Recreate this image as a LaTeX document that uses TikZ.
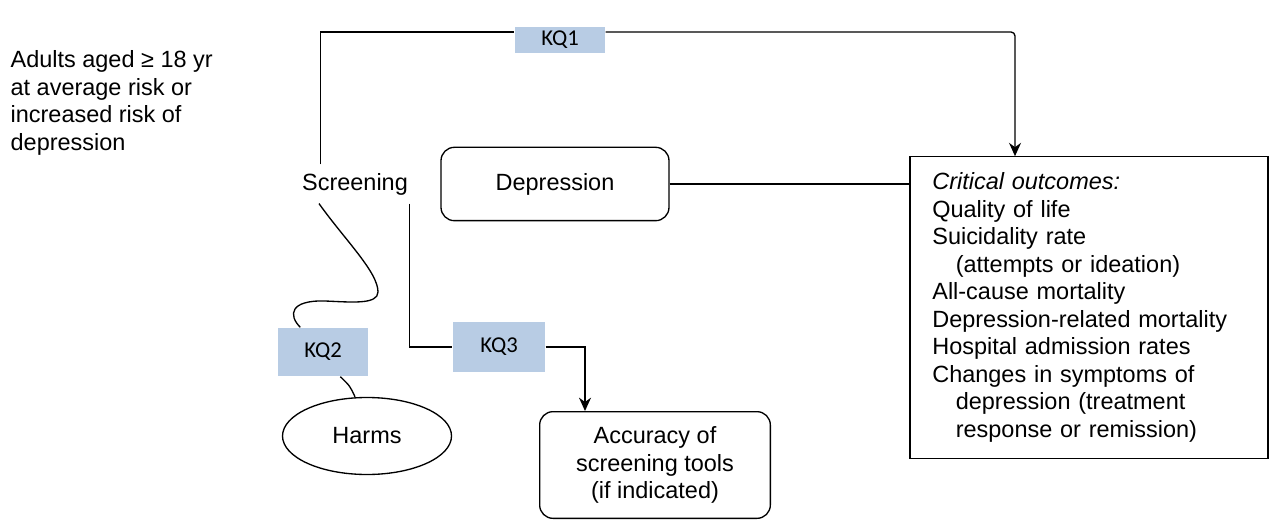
\documentclass[tikz,border=0pt]{standalone}
\usepackage{fontspec}
\setmainfont{Liberation Sans}
\newfontfamily\kqfont{Carlito}
\usepackage{xcolor}
\usepackage{tikz}
\usetikzlibrary{shapes.geometric,arrows.meta,positioning}
\definecolor{kqblue}{RGB}{184,204,228}

\begin{document}
\begin{tikzpicture}[
  x=0.75pt, y=-0.75pt,
  >={Stealth[length=10pt,width=9pt]},
  line width=1pt,
  node distance=150pt,
  every node/.style={font=\fontsize{17.6}{20.6}\selectfont},
  kq/.style={fill=kqblue, minimum width=67.5pt, font=\kqfont\fontsize{17}{20}\selectfont},
  roundbox/.style={draw, rectangle, rounded corners=10pt, align=center}
]
\useasboundingbox (0,0) rectangle (1269,520);

\node (adults) [anchor=north west, inner sep=0pt, align=left] at (10,50)
      {Adults aged ≥ 18 yr\\at average risk or\\increased risk of\\depression};
\node (screening)  [inner sep=6pt] at (355,184) {Screening};
\node (depression) [roundbox, right of=screening, minimum width=171pt, minimum height=55pt] {Depression};
\node (outcomes)   [draw, rectangle, align=left, text width=235pt, minimum width=268.5pt, minimum height=226pt] at (1089,307.5)
      {\textit{Critical outcomes:}\\Quality of life\\Suicidality rate\\\hspace*{1em}(attempts or ideation)\\All-cause mortality\\Depression-related mortality\\Hospital admission rates\\Changes in symptoms of\\\hspace*{1em}depression (treatment\\\hspace*{1em}response or remission)};

\node (kq1) [kq, minimum height=20pt] at (560,40)  {KQ1};
\node (kq2) [kq, minimum height=36pt] at (323,352) {KQ2};
\node (kq3) [kq, minimum width=69pt, minimum height=37.5pt] at (499,347) {KQ3};

\node (harms)    [draw, ellipse, inner sep=0pt, minimum width=126.75pt, minimum height=57.75pt] at (367,436) {Harms};
\node (accuracy) [roundbox, minimum width=173pt, minimum height=80pt] at (655,465)
      {Accuracy of\\screening tools\\(if indicated)};

% KQ1
\draw ([xshift=-26pt]screening.north) |- ([yshift=6pt]kq1.west);
\draw[->, rounded corners=3pt] ([yshift=6pt]kq1.east) -| ([xshift=-55.5pt]outcomes.north);
\draw (depression.east) -- (depression.east -| outcomes.west);

% KQ3
\draw ([xshift=41pt]screening.south) |- (kq3.west);
\draw[->] (kq3.east) -| ([xshift=-52.5pt]accuracy.north);

% KQ2
\coordinate (bendA) at (378,292);
\coordinate (bendB) at (325,301);
\draw ([xshift=-27pt]screening.south) .. controls (345,240) and (378,272) .. (bendA)
      .. controls (378,305) and (350,302) .. (bendB)
      .. controls (290,300) and (288,315) .. ([xshift=-17pt]kq2.north);
\draw ([xshift=13pt]kq2.south) .. controls (350,386) .. ([xshift=-9pt]harms.north);
\end{tikzpicture}
\end{document}
